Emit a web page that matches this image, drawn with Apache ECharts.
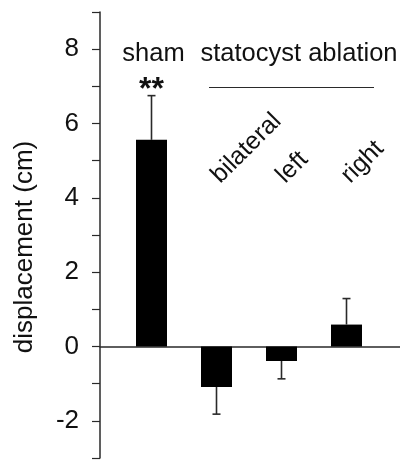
<!DOCTYPE html>
<html>
<head>
<meta charset="utf-8">
<script src="https://cdn.jsdelivr.net/npm/echarts@6/dist/echarts.min.js"></script>
<style>
html,body{margin:0;padding:0;background:#fff;}
#chart{width:400px;height:465px;}
</style>
</head>
<body>
<div id="chart"></div>
<script>
// ---- data ----
var categories = ['sham', 'bilateral', 'left', 'right'];
var means = [5.56, -1.09, -0.39, 0.59];
var errorEnds = [6.75, -1.82, -0.87, 1.29];
var yTicks = [-2, 0, 2, 4, 6, 8];
var yTitle = 'displacement (cm)';
var groupTitle = 'statocyst ablation';
var significance = '**';

var FONT = 'Liberation Sans';
var INK = '#111';
var LINE = '#2a2a2a';

var chart = echarts.init(document.getElementById('chart'), null, {renderer: 'canvas'});

var option = {
  animation: false,
  backgroundColor: '#fff',
  grid: [
    {left: 100, right: 0, top: 12, bottom: 7},
    {left: 119, right: 21, top: 12, bottom: 7}
  ],
  xAxis: [
    {
      gridIndex: 0, type: 'value', min: 0, max: 1,
      axisLine: {show: true, onZero: true, lineStyle: {color: LINE, width: 1.5}},
      axisTick: {show: false}, axisLabel: {show: false}, splitLine: {show: false}
    },
    {
      gridIndex: 1, type: 'category', data: categories, show: false
    }
  ],
  yAxis: [
    {
      gridIndex: 0, type: 'value', min: -3, max: 9, interval: 1,
      name: yTitle, nameLocation: 'middle', nameRotate: 90, nameGap: 62,
      nameTextStyle: {fontFamily: FONT, fontSize: 26, color: INK, padding: [0, 24, 0, 0]},
      axisLine: {show: true, lineStyle: {color: LINE, width: 1.5}},
      axisTick: {show: true, inside: false, length: 8, lineStyle: {color: LINE, width: 1.2}},
      axisLabel: {
        fontFamily: FONT, fontSize: 26, color: INK, margin: 21,
        formatter: function (v) { return yTicks.indexOf(v) >= 0 ? String(v) : ''; }
      },
      splitLine: {show: false}
    },
    {
      gridIndex: 1, type: 'value', min: -3, max: 9, show: false
    }
  ],
  series: [
    {
      type: 'bar', xAxisIndex: 1, yAxisIndex: 1,
      data: means, barWidth: 31,
      itemStyle: {color: '#000'}
    },
    {
      type: 'custom', xAxisIndex: 1, yAxisIndex: 1,
      data: means.map(function (m, i) { return [i, m, errorEnds[i]]; }),
      renderItem: function (params, api) {
        var p0 = api.coord([api.value(0), api.value(1)]);
        var p1 = api.coord([api.value(0), api.value(2)]);
        var hw = 4;
        return {
          type: 'group',
          children: [
            {type: 'line', shape: {x1: p0[0], y1: p0[1], x2: p1[0], y2: p1[1]},
             style: {stroke: LINE, lineWidth: 1.6}},
            {type: 'line', shape: {x1: p1[0] - hw, y1: p1[1], x2: p1[0] + hw, y2: p1[1]},
             style: {stroke: LINE, lineWidth: 1.6}}
          ]
        };
      },
      z: 3
    }
  ]
};
chart.setOption(option);

// annotations
var gfx = [];
var pSham = chart.convertToPixel({gridIndex: 1}, [0, 7.87]);
gfx.push({type: 'text', x: pSham[0] + 2, y: pSham[1],
  style: {text: categories[0], font: '25.5px "' + FONT + '"', fill: INK, align: 'center', verticalAlign: 'middle'}});
var pStar = chart.convertToPixel({gridIndex: 1}, [0, 7.05]);
gfx.push({type: 'text', x: pStar[0], y: pStar[1] + 6,
  style: {text: significance, font: 'bold 32px "' + FONT + '"', fill: INK, align: 'center', verticalAlign: 'middle'}});
gfx.push({type: 'text', x: 299, y: pSham[1],
  style: {text: groupTitle, font: '25.5px "' + FONT + '"', fill: INK, align: 'center', verticalAlign: 'middle'}});
gfx.push({type: 'line', shape: {x1: 209, y1: 87.5, x2: 374, y2: 87.5},
  style: {stroke: LINE, lineWidth: 1}});
for (var i = 1; i < categories.length; i++) {
  var p = chart.convertToPixel({gridIndex: 1}, [i, 4.5]);
  gfx.push({type: 'text', x: p[0] - 1, y: p[1], rotation: Math.PI / 4,
    style: {text: categories[i], font: '25px "' + FONT + '"', fill: INK, align: 'left', verticalAlign: 'middle'}});
}
chart.setOption({graphic: gfx});
</script>
</body>
</html>
